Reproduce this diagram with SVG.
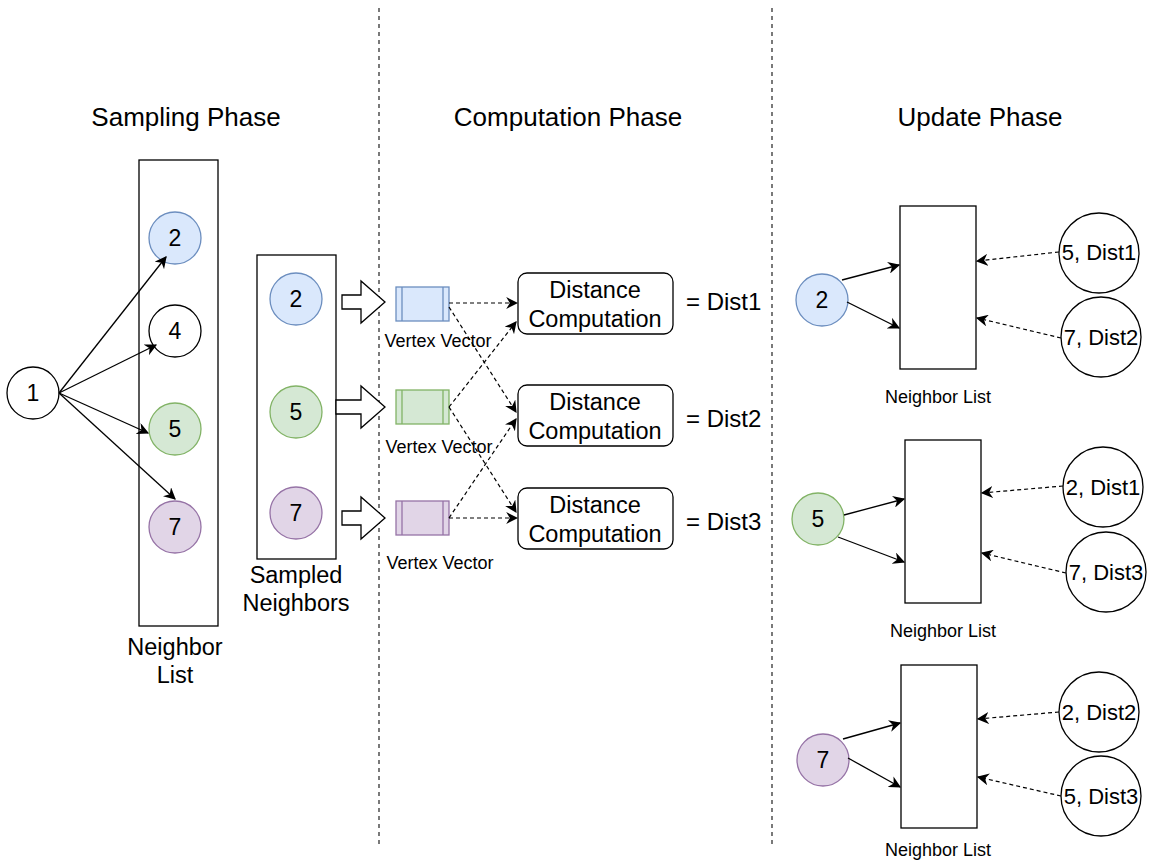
<svg xmlns="http://www.w3.org/2000/svg" width="1150" height="867" viewBox="0 0 1150 867">
<style>
text{font-family:"Liberation Sans",Arial,sans-serif;fill:#000}
.t{font-size:26px;text-anchor:middle}
.n{font-size:23px;text-anchor:middle}
.lb{font-size:23.5px;text-anchor:middle}
.eq{font-size:24px}
.sm{font-size:18px;text-anchor:middle}
.d{font-size:22px;text-anchor:middle}
.box{fill:#fff;stroke:#000;stroke-width:1.3}
.w{fill:#fff;stroke:#000;stroke-width:1.3}
.bl{fill:#dae8fc;stroke:#6c8ebf;stroke-width:1.3}
.gr{fill:#d5e8d4;stroke:#82b366;stroke-width:1.3}
.pu{fill:#e1d5e7;stroke:#9673a6;stroke-width:1.3}
.e{fill:none;stroke:#000;stroke-width:1.3;marker-end:url(#ah)}
.ed{fill:none;stroke:#000;stroke-width:1.2;stroke-dasharray:4 3;marker-end:url(#ah)}
.div{fill:none;stroke:#222;stroke-width:1.2;stroke-dasharray:4 4}
.blk{fill:#fff;stroke:#000;stroke-width:1.3}
</style>
<defs>
<marker id="ah" viewBox="0 0 10 10" refX="9" refY="5" markerWidth="12" markerHeight="12" markerUnits="userSpaceOnUse" orient="auto">
<path d="M0,0 L10,5 L0,10 L3,5 z" fill="#000"/>
</marker>
</defs>
<rect width="1150" height="867" fill="#fff"/>

<g id="dividers">
<line class="div" x1="379" y1="8" x2="379" y2="846"/>
<line class="div" x1="772" y1="8" x2="772" y2="846"/>
</g>

<g id="titles">
<text class="t" x="186" y="126">Sampling Phase</text>
<text class="t" x="568" y="126">Computation Phase</text>
<text class="t" x="980" y="126">Update Phase</text>
</g>

<g id="neighbor-list-left">
<rect class="box" x="139" y="160" width="79" height="466"/>
<text class="lb" x="175" y="655">Neighbor</text>
<text class="lb" x="175" y="683">List</text>
</g>
<g id="sampled-neighbors">
<rect class="box" x="257" y="255" width="79" height="304"/>
<text class="lb" x="296" y="583">Sampled</text>
<text class="lb" x="296" y="611">Neighbors</text>
</g>

<g id="n1"><circle class="w" cx="33" cy="393" r="26"/><text class="n" x="33" y="401">1</text></g>
<g id="nl2"><circle class="bl" cx="175" cy="238" r="26"/><text class="n" x="175" y="246">2</text></g>
<g id="nl4"><circle class="w" cx="175" cy="331" r="26"/><text class="n" x="175" y="339">4</text></g>
<g id="nl5"><circle class="gr" cx="175" cy="429" r="26"/><text class="n" x="175" y="437">5</text></g>
<g id="nl7"><circle class="pu" cx="175" cy="527" r="26"/><text class="n" x="175" y="535">7</text></g>

<g id="sn2"><circle class="bl" cx="296" cy="299" r="26"/><text class="n" x="296" y="307">2</text></g>
<g id="sn5"><circle class="gr" cx="296" cy="412" r="26"/><text class="n" x="296" y="420">5</text></g>
<g id="sn7"><circle class="pu" cx="296" cy="513" r="26"/><text class="n" x="296" y="521">7</text></g>

<g id="block-arrows">
<polygon class="blk" points="342,295 361,295 361,281 385,302 361,323 361,309 342,309"/>
<polygon class="blk" points="336,400 361,400 361,386 385,407 361,428 361,414 336,414"/>
<polygon class="blk" points="342,511 361,511 361,497 385,518 361,539 361,525 342,525"/>
</g>

<g id="vv1">
<rect class="bl" x="396" y="287" width="53" height="34"/>
<line x1="402" y1="287" x2="402" y2="321" stroke="#6c8ebf" stroke-width="1.3"/>
<line x1="443" y1="287" x2="443" y2="321" stroke="#6c8ebf" stroke-width="1.3"/>
<text class="sm" x="438" y="347">Vertex Vector</text>
</g>
<g id="vv2">
<rect class="gr" x="396" y="390" width="53" height="34"/>
<line x1="402" y1="390" x2="402" y2="424" stroke="#82b366" stroke-width="1.3"/>
<line x1="443" y1="390" x2="443" y2="424" stroke="#82b366" stroke-width="1.3"/>
<text class="sm" x="439" y="453">Vertex Vector</text>
</g>
<g id="vv3">
<rect class="pu" x="396" y="501" width="53" height="34"/>
<line x1="402" y1="501" x2="402" y2="535" stroke="#9673a6" stroke-width="1.3"/>
<line x1="443" y1="501" x2="443" y2="535" stroke="#9673a6" stroke-width="1.3"/>
<text class="sm" x="440" y="569">Vertex Vector</text>
</g>

<g id="dc1">
<rect class="box" x="518" y="273" width="155" height="61" rx="9"/>
<text class="lb" x="595" y="298">Distance</text>
<text class="lb" x="595" y="327">Computation</text>
<text class="eq" x="686" y="310">= Dist1</text>
</g>
<g id="dc2">
<rect class="box" x="518" y="385" width="155" height="61" rx="9"/>
<text class="lb" x="595" y="410">Distance</text>
<text class="lb" x="595" y="439">Computation</text>
<text class="eq" x="686" y="427">= Dist2</text>
</g>
<g id="dc3">
<rect class="box" x="518" y="488" width="155" height="61" rx="9"/>
<text class="lb" x="595" y="513">Distance</text>
<text class="lb" x="595" y="542">Computation</text>
<text class="eq" x="686" y="530">= Dist3</text>
</g>

<g id="update-2">
<rect class="box" x="900" y="206" width="76" height="163"/>
<text class="sm" x="938" y="403">Neighbor List</text>
<circle class="bl" cx="822" cy="300" r="26"/><text class="n" x="822" y="308">2</text>
</g>
<g id="u2a"><circle class="w" cx="1099" cy="253" r="40"/><text class="d" x="1099" y="260">5, Dist1</text></g>
<g id="u2b"><circle class="w" cx="1101" cy="337" r="40"/><text class="d" x="1101" y="345">7, Dist2</text></g>

<g id="update-5">
<rect class="box" x="905" y="440" width="76" height="163"/>
<text class="sm" x="943" y="637">Neighbor List</text>
<circle class="gr" cx="818" cy="519" r="26"/><text class="n" x="818" y="527">5</text>
</g>
<g id="u5a"><circle class="w" cx="1103" cy="487" r="40"/><text class="d" x="1103" y="495">2, Dist1</text></g>
<g id="u5b"><circle class="w" cx="1106" cy="572" r="40"/><text class="d" x="1106" y="580">7, Dist3</text></g>

<g id="update-7">
<rect class="box" x="901" y="665" width="76" height="163"/>
<text class="sm" x="938" y="856">Neighbor List</text>
<circle class="pu" cx="823" cy="760" r="26"/><text class="n" x="823" y="768">7</text>
</g>
<g id="u7a"><circle class="w" cx="1099" cy="712" r="40"/><text class="d" x="1099" y="720">2, Dist2</text></g>
<g id="u7b"><circle class="w" cx="1101" cy="796" r="40"/><text class="d" x="1101" y="804">5, Dist3</text></g>

<g id="connectors">
<line class="e" x1="59" y1="393" x2="166" y2="257"/>
<line class="e" x1="59" y1="393" x2="156" y2="345"/>
<line class="e" x1="59" y1="393" x2="148" y2="433"/>
<line class="e" x1="59" y1="393" x2="175" y2="499"/>

<line class="ed" x1="449" y1="303" x2="517" y2="303"/>
<line class="ed" x1="449" y1="307" x2="516" y2="412"/>
<line class="ed" x1="449" y1="407" x2="516" y2="322"/>
<line class="ed" x1="449" y1="407" x2="516" y2="512"/>
<line class="ed" x1="449" y1="518" x2="516" y2="419"/>
<line class="ed" x1="449" y1="518" x2="517" y2="518"/>

<line class="e" x1="842" y1="280" x2="899" y2="265"/>
<line class="e" x1="847" y1="302" x2="899" y2="328"/>
<line class="ed" x1="1059" y1="252" x2="977" y2="261"/>
<line class="ed" x1="1061" y1="338" x2="977" y2="318"/>

<line class="e" x1="844" y1="515" x2="904" y2="499"/>
<line class="e" x1="838" y1="537" x2="904" y2="562"/>
<line class="ed" x1="1063" y1="486" x2="982" y2="493"/>
<line class="ed" x1="1066" y1="573" x2="982" y2="553"/>

<line class="e" x1="843" y1="739" x2="900" y2="723"/>
<line class="e" x1="848" y1="758" x2="900" y2="787"/>
<line class="ed" x1="1059" y1="712" x2="978" y2="719"/>
<line class="ed" x1="1061" y1="796" x2="978" y2="777"/>
</g>
</svg>
